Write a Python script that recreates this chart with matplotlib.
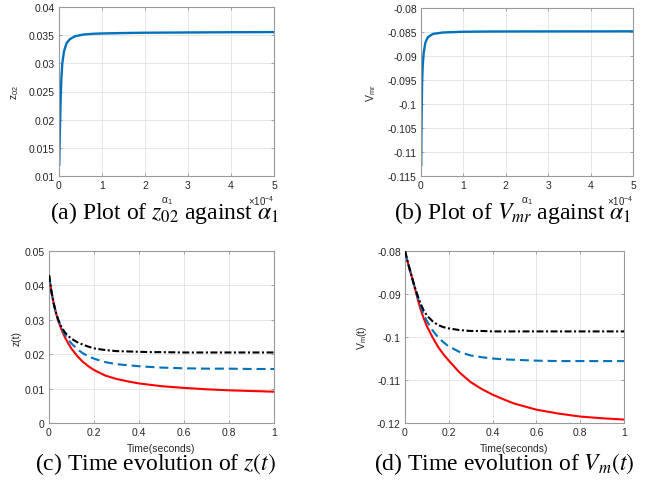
import matplotlib
matplotlib.use("Agg")
import matplotlib.pyplot as plt
from matplotlib.ticker import FuncFormatter, MultipleLocator

plt.rcParams['font.family'] = ['Liberation Sans', 'DejaVu Sans']
plt.rcParams['mathtext.default'] = 'it'
plt.rcParams['lines.scale_dashes'] = False

# (a) z02 against alpha1
alpha_a = [0.005e-4, 0.015e-4, 0.025e-4, 0.04e-4, 0.055e-4, 0.077e-4, 0.115e-4, 0.177e-4,
           0.254e-4, 0.37e-4, 0.56e-4, 0.8e-4, 1.0e-4, 1.5e-4, 2.0e-4, 3.0e-4, 4.0e-4, 5.0e-4]
z02 = [0.0120, 0.0160, 0.0195, 0.0240, 0.0273, 0.0300, 0.0321, 0.0336,
       0.0343, 0.0348, 0.0351, 0.03525, 0.0353, 0.03538, 0.03543, 0.03548, 0.03552, 0.03555]

# (b) Vmr against alpha1
alpha_b = [0.005e-4, 0.01e-4, 0.018e-4, 0.026e-4, 0.04e-4, 0.064e-4, 0.104e-4, 0.16e-4,
           0.28e-4, 0.52e-4, 1.0e-4, 1.64e-4, 2.5e-4, 3.5e-4, 5.0e-4]
vmr = [-0.1127, -0.1060, -0.1004, -0.0955, -0.0920, -0.0893, -0.0872, -0.0861,
       -0.0854, -0.0851, -0.08495, -0.0849, -0.08488, -0.08487, -0.08486]

# (c), (d) time evolution, three cases each
t = [0, 0.01, 0.02, 0.03, 0.04, 0.055, 0.07, 0.085, 0.1, 0.125, 0.15, 0.175, 0.2, 0.25, 0.3,
     0.35, 0.4, 0.45, 0.5, 0.6, 0.7, 0.8, 0.9, 1.0]
z_black = [0.0430, 0.0385, 0.0350, 0.0323, 0.0302, 0.0279, 0.0264, 0.0253, 0.0245, 0.0235,
           0.0228, 0.0222, 0.0217, 0.0212, 0.0209, 0.0208, 0.0207, 0.0206, 0.0206, 0.0205,
           0.0205, 0.0205, 0.0205, 0.0205]
z_blue = [0.0430, 0.0385, 0.0350, 0.0323, 0.0302, 0.0276, 0.0258, 0.0243, 0.0231, 0.0215,
          0.0203, 0.0194, 0.0187, 0.0177, 0.0171, 0.0168, 0.0165, 0.0163, 0.0161, 0.0159,
          0.0158, 0.0158, 0.0157, 0.0157]
z_red = [0.0430, 0.0385, 0.0350, 0.0322, 0.0299, 0.0272, 0.0250, 0.0232, 0.0216, 0.0195,
         0.0178, 0.0165, 0.0154, 0.0138, 0.0128, 0.0121, 0.0115, 0.0111, 0.0107, 0.0102,
         0.0098, 0.0095, 0.0093, 0.0091]
v_black = [-0.0800, -0.0821, -0.0840, -0.0858, -0.0876, -0.0900, -0.0921, -0.0938, -0.0950,
           -0.0963, -0.0972, -0.0977, -0.0980, -0.0984, -0.0986, -0.0986, -0.0987, -0.0987,
           -0.0987, -0.0987, -0.0987, -0.0987, -0.0987, -0.0987]
v_blue = [-0.0800, -0.0821, -0.0840, -0.0858, -0.0876, -0.0902, -0.0927, -0.0947, -0.0963,
          -0.0984, -0.1000, -0.1012, -0.1022, -0.1035, -0.1043, -0.1047, -0.1050, -0.1052,
          -0.1053, -0.1055, -0.1056, -0.1056, -0.1056, -0.1056]
v_red = [-0.0800, -0.0821, -0.0840, -0.0858, -0.0877, -0.0906, -0.0934, -0.0956, -0.0975,
         -0.1000, -0.1022, -0.1040, -0.1055, -0.1083, -0.1105, -0.1121, -0.1134, -0.1145,
         -0.1155, -0.1169, -0.1178, -0.1185, -0.1189, -0.1192]

BLUE = '#0072BD'
GRAY = '#9a9a9a'
TXT = '#262626'
W, H = 662, 481

fig = plt.figure(figsize=(6.62, 4.81), dpi=100)


def box(l, t_, r, b):
    return fig.add_axes([l / W, 1 - b / H, (r - l) / W, (b - t_) / H])


def style(ax):
    for s in ax.spines.values():
        s.set_color(GRAY)
        s.set_linewidth(0.8)
    ax.tick_params(direction='in', length=2.5, width=0.6, color=GRAY, labelcolor=TXT,
                   labelsize=7.5, top=True, right=True, pad=3)
    ax.grid(True, color='#e3e3e3', lw=0.6)
    ax.set_axisbelow(True)
    ax.yaxis.set_major_formatter(FuncFormatter(lambda v, p: '%g' % round(v, 6)))


def alpha_axis(ax):
    ax.set_xlim(0, 5e-4)
    ax.xaxis.set_major_locator(MultipleLocator(1e-4))
    ax.xaxis.set_major_formatter(FuncFormatter(lambda v, p: '%g' % round(v * 1e4, 6)))
    ax.set_xlabel('α$_\\mathregular{1}$', fontsize=7.5, color=TXT)
    ax.xaxis.set_label_coords(0.5, -0.11)
    ax.text(1.0, -0.1, '×10$^\\mathregular{-4}$', transform=ax.transAxes, ha='right',
            va='top', fontsize=7, color=TXT)


def time_axis(ax):
    ax.set_xlim(0, 1)
    ax.xaxis.set_major_locator(MultipleLocator(0.2))
    ax.xaxis.set_major_formatter(FuncFormatter(lambda v, p: '%g' % round(v, 6)))
    ax.set_xlabel('Time(seconds)', fontsize=7.5, color=TXT)
    ax.xaxis.set_label_coords(0.5, -0.115)


# (a)
ax = box(59, 8, 274, 177)
style(ax)
ax.plot(alpha_a, z02, color=BLUE, lw=1.7)
alpha_axis(ax)
ax.set_ylim(0.01, 0.04)
ax.yaxis.set_major_locator(MultipleLocator(0.005))
ax.set_ylabel('z$_\\mathregular{02}$', fontsize=7.5, color=TXT)
ax.yaxis.set_label_coords(-0.177, 0.5)

# (b)
ax = box(421, 9, 633, 177)
style(ax)
ax.plot(alpha_b, vmr, color=BLUE, lw=1.7)
alpha_axis(ax)
ax.set_ylim(-0.115, -0.08)
ax.yaxis.set_major_locator(MultipleLocator(0.005))
ax.set_ylabel('V$_\\mathregular{mr}$', fontsize=7.5, color=TXT)
ax.yaxis.set_label_coords(-0.203, 0.5)

# (c)
ax = box(49, 252, 274, 424)
style(ax)
ax.plot(t, z_red, color='r', lw=1.5, zorder=2)
ax.plot(t, z_blue, color=BLUE, lw=1.5, ls=(0, (6.5, 3.5)), zorder=3)
ax.plot(t, z_black, color='k', lw=1.5, ls=(0, (5, 1.8, 1.5, 1.8)), zorder=4)
time_axis(ax)
ax.set_ylim(0, 0.05)
ax.yaxis.set_major_locator(MultipleLocator(0.01))
ax.set_ylabel('z(t)', fontsize=7.5, color=TXT)
ax.yaxis.set_label_coords(-0.12, 0.5)

# (d)
ax = box(405, 252, 624, 424)
style(ax)
ax.plot(t, v_red, color='r', lw=1.5, zorder=2)
ax.plot(t, v_blue, color=BLUE, lw=1.5, ls=(0, (6.5, 3.5)), zorder=3)
ax.plot(t, v_black, color='k', lw=1.5, ls=(0, (5, 1.8, 1.5, 1.8)), zorder=4)
time_axis(ax)
ax.set_ylim(-0.12, -0.08)
ax.yaxis.set_major_locator(MultipleLocator(0.01))
ax.set_ylabel('V$_\\mathregular{m}$(t)', fontsize=7.5, color=TXT)
ax.yaxis.set_label_coords(-0.164, 0.5)

# captions
cap = dict(ha='center', va='baseline', fontsize=17, family='Liberation Serif',
           math_fontfamily='stix', color='black')
fig.text(164 / W, 1 - 219 / H, '(a) Plot of $z_{\\mathrm{02}}$ against $\\alpha_{\\mathrm{1}}$', **cap)
fig.text(513 / W, 1 - 219 / H, '(b) Plot of $V_{mr}$ against $\\alpha_{\\mathrm{1}}$', **cap)
fig.text(155 / W, 1 - 470 / H, '(c) Time evolution of $z(t)$', **cap)
fig.text(504 / W, 1 - 470 / H, '(d) Time evolution of $V_m(t)$', **cap)

fig.savefig('out.png', dpi=100)
